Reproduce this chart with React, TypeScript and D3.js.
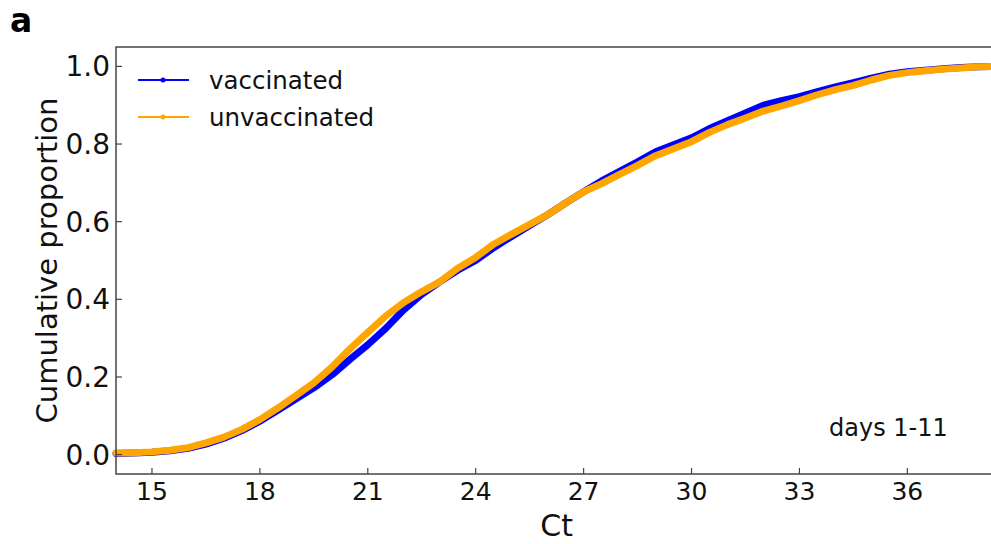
import React from "react";
import { scaleLinear, line } from "d3";

// Ct values and cumulative proportions
const ct = [
  14, 14.5, 15, 15.5, 16, 16.5, 17, 17.5, 18, 18.5, 19, 19.5, 20, 20.5, 21,
  21.5, 22, 22.5, 23, 23.5, 24, 24.5, 25, 25.5, 26, 26.5, 27, 27.5, 28, 28.5,
  29, 29.5, 30, 30.5, 31, 31.5, 32, 32.5, 33, 33.5, 34, 34.5, 35, 35.5, 36,
  36.5, 37, 37.5, 38, 38.5,
];
const vaccinated = [
  0.003, 0.004, 0.006, 0.01, 0.016, 0.027, 0.042, 0.062, 0.086, 0.114, 0.143,
  0.172, 0.205, 0.245, 0.283, 0.325, 0.373, 0.413, 0.445, 0.475, 0.5, 0.533,
  0.562, 0.59, 0.618, 0.648, 0.677, 0.705, 0.73, 0.754, 0.78, 0.798, 0.816,
  0.84, 0.86, 0.88, 0.9, 0.912, 0.922, 0.935, 0.947, 0.958, 0.97, 0.98, 0.986,
  0.99, 0.994, 0.997, 0.999, 1.0,
];
const unvaccinated = [
  0.004, 0.005, 0.007, 0.011, 0.018, 0.03, 0.045, 0.065, 0.09, 0.12, 0.152,
  0.185, 0.225, 0.272, 0.315, 0.357, 0.392, 0.42, 0.445, 0.48, 0.508, 0.542,
  0.568, 0.593, 0.618, 0.648, 0.677, 0.698, 0.722, 0.745, 0.77, 0.788, 0.806,
  0.83, 0.85, 0.867, 0.885, 0.898, 0.912, 0.927, 0.94, 0.951, 0.965, 0.977,
  0.984, 0.989, 0.993, 0.996, 0.999, 1.0,
];
const xTicks = [15, 18, 21, 24, 27, 30, 33, 36];
const yTicks = [0, 0.2, 0.4, 0.6, 0.8, 1.0];

const series = [
  { name: "vaccinated", values: vaccinated, color: "#0000ff" },
  { name: "unvaccinated", values: unvaccinated, color: "#ffa500" },
];

const width = 991;
const height = 544;
const left = 116;
const top = 47;
const bottom = 474;

const font = "DejaVu Sans, sans-serif";
const axisColor = "#444";

const App = () => {
  const x = scaleLinear().domain([14, 38.5]).range([left, left + 24.5 * 35.97]);
  const y = scaleLinear().domain([-0.05, 1.05]).range([bottom, top]);
  const right = x(38.5);

  const path = line<number>()
    .x((_, i) => x(ct[i]))
    .y((d) => y(d));

  return (
    <svg
      width={width}
      height={height}
      style={{ position: "absolute", left: 0, top: 0, background: "#fff" }}
    >
      <text x={10} y={32} fontFamily={font} fontWeight="bold" fontSize={33}>
        a
      </text>

      {series.map((s) => (
        <path
          key={s.name}
          d={path(s.values) ?? ""}
          fill="none"
          stroke={s.color}
          strokeWidth={7}
          strokeLinejoin="round"
          strokeLinecap="round"
        />
      ))}

      {/* spines */}
      <rect
        x={left}
        y={top}
        width={right - left}
        height={bottom - top}
        fill="none"
        stroke={axisColor}
        strokeWidth={1.5}
      />

      {xTicks.map((t) => (
        <g key={t}>
          <line x1={x(t)} x2={x(t)} y1={bottom} y2={bottom - 6} stroke={axisColor} strokeWidth={1.2} />
          <text x={x(t)} y={500} textAnchor="middle" fontFamily={font} fontSize={25} fill="#111">
            {t}
          </text>
        </g>
      ))}
      {yTicks.map((t) => (
        <g key={t}>
          <line x1={left} x2={left + 6} y1={y(t)} y2={y(t)} stroke={axisColor} strokeWidth={1.2} />
          <line x1={right} x2={right - 6} y1={y(t)} y2={y(t)} stroke={axisColor} strokeWidth={1.2} />
          <text x={110} y={y(t) + 10} textAnchor="end" fontFamily={font} fontSize={28} fill="#111">
            {t.toFixed(1)}
          </text>
        </g>
      ))}

      <text x={(left + right) / 2} y={536} textAnchor="middle" fontFamily={font} fontSize={30} fill="#111">
        Ct
      </text>
      <text
        transform={`translate(57, ${(top + bottom) / 2}) rotate(-90)`}
        textAnchor="middle"
        fontFamily={font}
        fontSize={29}
        fill="#111"
      >
        Cumulative proportion
      </text>

      {/* legend */}
      {series.map((s, i) => {
        const ly = 80 + i * 37;
        return (
          <g key={s.name}>
            <line x1={138} x2={189} y1={ly} y2={ly} stroke={s.color} strokeWidth={2} />
            <circle cx={163} cy={ly} r={2.5} fill={s.color} />
            <text x={209} y={ly + 9} fontFamily={font} fontSize={24.5} fill="#111">
              {s.name}
            </text>
          </g>
        );
      })}

      <text x={829} y={436} fontFamily={font} fontSize={24} fill="#111">
        days 1-11
      </text>
    </svg>
  );
};

export default App;
